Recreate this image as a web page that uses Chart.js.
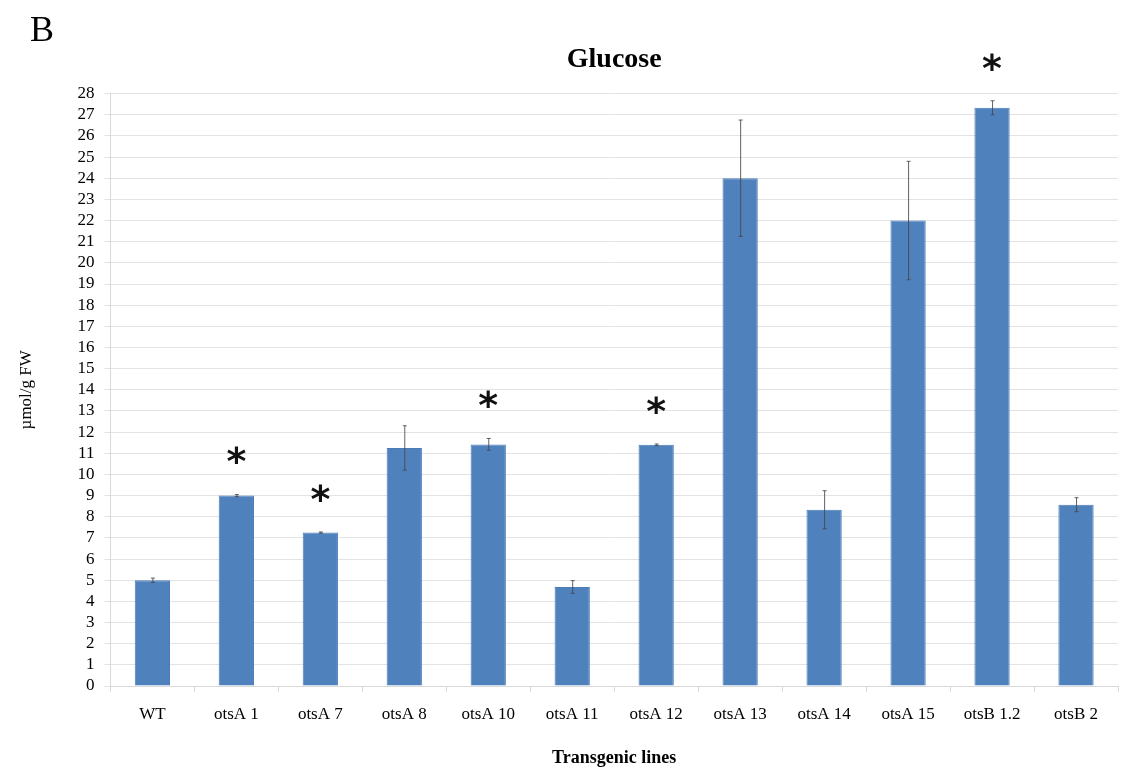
<!DOCTYPE html>
<html>
<head>
<meta charset="utf-8">
<script src="https://cdn.jsdelivr.net/npm/chart.js@4.4.1/dist/chart.umd.min.js"></script>
<style>
  html, body { margin: 0; padding: 0; background: #fff; }
  #wrap { position: relative; width: 1126px; height: 771px; }
</style>
</head>
<body>
<div id="wrap"><canvas id="myChart" width="1126" height="771"></canvas></div>
<script>
// datos
const lines = ['WT', 'otsA 1', 'otsA 7', 'otsA 8', 'otsA 10', 'otsA 11', 'otsA 12', 'otsA 13', 'otsA 14', 'otsA 15', 'otsB 1.2', 'otsB 2'];
const glucose = [5.0, 9.0, 7.25, 11.25, 11.42, 4.68, 11.4, 24.0, 8.33, 22.0, 27.33, 8.57];
const glucoseErr = [0.1, 0.05, 0.03, 1.05, 0.28, 0.3, 0.04, 2.75, 0.9, 2.8, 0.33, 0.33];
const significant = [false, true, true, false, true, false, true, false, false, false, true, false];
const yMin = 0;
const yMax = 28;
const yStep = 1;

const serif = '"Liberation Serif", "Times New Roman", serif';

// barras de error y asteriscos
const extras = {
  id: 'extras',
  afterDatasetsDraw(chart) {
    const ctx = chart.ctx;
    const x = chart.scales.x;
    const y = chart.scales.y;
    ctx.save();
    glucose.forEach((v, i) => {
      const px = x.getPixelForValue(i);
      const top = y.getPixelForValue(v + glucoseErr[i]);
      const bot = y.getPixelForValue(v - glucoseErr[i]);
      ctx.strokeStyle = 'rgba(70,70,70,0.85)';
      ctx.lineWidth = 1;
      ctx.beginPath();
      ctx.moveTo(px + 0.5, top);
      ctx.lineTo(px + 0.5, bot);
      ctx.moveTo(px - 1.5, top);
      ctx.lineTo(px + 2.5, top);
      ctx.moveTo(px - 1.5, bot);
      ctx.lineTo(px + 2.5, bot);
      ctx.stroke();
      if (significant[i]) {
        ctx.fillStyle = '#111';
        ctx.font = 'bold 38px "DejaVu Sans", sans-serif';
        ctx.textAlign = 'center';
        ctx.textBaseline = 'middle';
        ctx.fillText('*', px, top - 30);
      }
    });
    ctx.restore();
  },
  afterDraw(chart) {
    const ctx = chart.ctx;
    ctx.save();
    ctx.fillStyle = '#000';
    ctx.font = '36px ' + serif;
    ctx.textAlign = 'left';
    ctx.textBaseline = 'middle';
    ctx.fillText('B', 30, 32);
    ctx.restore();
  }
};

const ctx = document.getElementById('myChart');

new Chart(ctx, {
  type: 'bar',
  data: {
    labels: lines,
    datasets: [{
      label: 'Glucose',
      data: glucose,
      backgroundColor: '#4f81bd',
      borderColor: '#4a7cb8',
      borderWidth: 1,
      barPercentage: 1,
      categoryPercentage: 0.42
    }]
  },
  options: {
    responsive: false,
    animation: false,
    layout: { padding: { top: 20, left: 16, right: 8, bottom: 2 } },
    plugins: {
      legend: { display: false },
      tooltip: { enabled: false },
      title: {
        display: true,
        text: 'Glucose',
        fullSize: false,
        color: '#000',
        font: { family: serif, size: 28, weight: 'bold' },
        padding: { top: 23, bottom: 17 }
      }
    },
    scales: {
      x: {
        grid: {
          display: true,
          drawOnChartArea: false,
          offset: true,
          color: '#d9d9d9',
          tickLength: 6
        },
        border: { color: '#d9d9d9' },
        ticks: {
          color: '#000',
          font: { family: serif, size: 17 },
          padding: 12,
          maxRotation: 0
        },
        title: {
          display: true,
          text: 'Transgenic lines',
          color: '#000',
          font: { family: serif, size: 18, weight: 'bold' },
          padding: { top: 11, bottom: 0 }
        }
      },
      y: {
        min: yMin,
        max: yMax,
        grid: {
          color: '#e3e3e3',
          tickLength: 6
        },
        border: { color: '#d9d9d9' },
        ticks: {
          stepSize: yStep,
          autoSkip: false,
          color: '#000',
          font: { family: serif, size: 17 },
          padding: 10
        },
        title: {
          display: true,
          text: 'µmol/g FW',
          color: '#000',
          font: { family: serif, size: 17 },
          padding: { top: 0, bottom: 31 }
        }
      }
    }
  },
  plugins: [extras]
});
</script>
</body>
</html>
